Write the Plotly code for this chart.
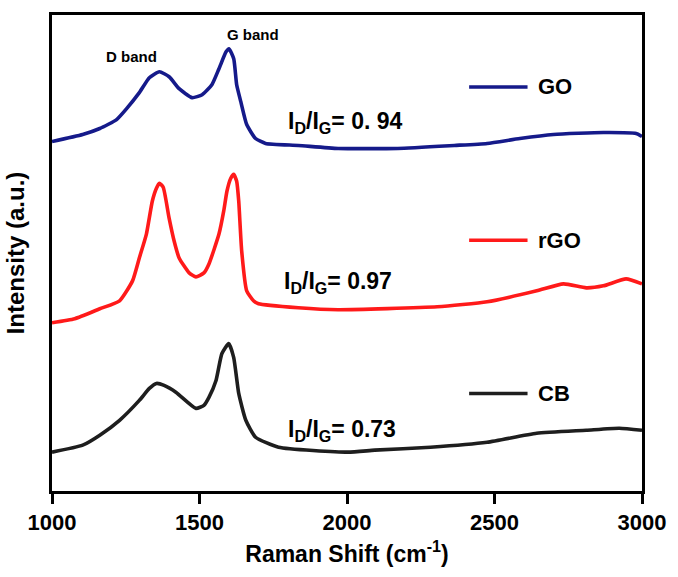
import plotly.graph_objects as go

# ---- data (Raman shift in cm^-1, intensity in a.u.) ----
go_shift = [1000, 1104, 1162, 1219, 1253, 1296, 1330, 1364, 1397, 1431, 1475,
            1509, 1542, 1566, 1590, 1600, 1616, 1626, 1640, 1660, 1690, 1724, 1835, 1970,
            2172, 2364, 2475, 2586, 2700, 2869, 2980, 3000]
go_int = [351, 358, 364, 373, 384, 400, 415, 421, 416, 404, 395,
          398, 408, 424, 441, 444, 434, 408, 391, 368, 354, 349, 347, 344,
          344, 347, 349, 354, 358, 360, 359, 356]

rgo_shift = [1000, 1077, 1162, 1229, 1273, 1296, 1320, 1340, 1354, 1364, 1377, 1397,
             1414, 1431, 1465, 1488, 1515, 1532, 1566, 1582, 1593, 1606, 1616, 1626,
             1633, 1643, 1660, 1683, 1700, 1835, 1970, 2306, 2475, 2643, 2734, 2811,
             2869, 2946, 3000]
rgo_int = [169, 173, 183, 191, 211, 234, 258, 291, 304, 309, 305, 274,
           251, 234, 219, 215, 219, 228, 258, 281, 301, 314, 318, 311,
           291, 241, 201, 191, 188, 184, 182, 185, 190, 201, 208, 204,
           206, 213, 208]

cb_shift = [1000, 1104, 1162, 1229, 1296, 1330, 1354, 1380, 1421, 1488, 1515, 1532,
            1556, 1576, 1599, 1616, 1633, 1657, 1690, 1768, 2003, 2094, 2283, 2475,
            2643, 2811, 2923, 3000]
cb_int = [39, 46, 56, 71, 91, 103, 108, 106, 99, 83, 86, 94,
          111, 138, 148, 134, 98, 71, 54, 44, 39, 41, 44, 49,
          58, 61, 63, 61]

series_names = ["GO", "rGO", "CB"]
series_colors = ["#151a8a", "#ff1a1a", "#1e1e1e"]
ratio_labels = ["I<sub>D</sub>/I<sub>G</sub>= 0. 94",
                "I<sub>D</sub>/I<sub>G</sub>= 0.97",
                "I<sub>D</sub>/I<sub>G</sub>= 0.73"]
x_ticks = [1000, 1500, 2000, 2500, 3000]

FONT = "Arial, Liberation Sans, sans-serif"

fig = go.Figure()
for name, xs, ys, col in zip(series_names, [go_shift, rgo_shift, cb_shift],
                             [go_int, rgo_int, cb_int], series_colors):
    fig.add_trace(go.Scatter(x=xs, y=ys, name=name, mode="lines",
                             line=dict(color=col, width=3.6, shape="spline", smoothing=0.5),
                             showlegend=False))

# legend keys (line sample + label) and ratio labels
legend_y = [0.849, 0.527, 0.205]
ratio_pos = [(0.396, 0.774), (0.389, 0.437), (0.396, 0.128)]
for name, col, ly, rl, (rx, ry) in zip(series_names, series_colors, legend_y,
                                        ratio_labels, ratio_pos):
    fig.add_shape(type="line", xref="paper", yref="paper", x0=0.707, x1=0.806,
                  y0=ly, y1=ly, line=dict(color=col, width=3.5))
    fig.add_annotation(text=name, xref="paper", yref="paper", x=0.82, y=ly,
                       xanchor="left", yanchor="middle", showarrow=False,
                       font=dict(family=FONT, size=22, color="black", weight="bold"))
    fig.add_annotation(text=rl, xref="paper", yref="paper", x=rx, y=ry,
                       xanchor="left", yanchor="middle", showarrow=False,
                       font=dict(family=FONT, size=23, color="black", weight="bold"))

fig.add_annotation(text="D band", x=1270, y=436, xref="x", yref="y", showarrow=False,
                   font=dict(family=FONT, size=15, color="black", weight="bold"))
fig.add_annotation(text="G band", x=1680, y=458, xref="x", yref="y", showarrow=False,
                   font=dict(family=FONT, size=15, color="black", weight="bold"))

fig.update_xaxes(range=[1000, 3000], tickvals=x_ticks, ticks="outside", ticklen=10,
                 tickwidth=3, tickcolor="black", showline=True, linewidth=3,
                 linecolor="black", mirror=True, showgrid=False, zeroline=False,
                 tickfont=dict(family=FONT, size=22, color="black", weight="bold"),
                 title=dict(text="Raman Shift (cm<sup>-1</sup>)", standoff=12,
                            font=dict(family=FONT, size=23, color="black", weight="bold")))
fig.update_yaxes(range=[0, 478], showticklabels=False, ticks="", showline=True,
                 linewidth=3, linecolor="black", mirror=True, showgrid=False,
                 zeroline=False,
                 title=dict(text="Intensity (a.u.)", standoff=18,
                            font=dict(family=FONT, size=24, color="black", weight="bold")))

fig.update_layout(width=678, height=577, margin=dict(l=52, r=32, t=13, b=86),
                  paper_bgcolor="white", plot_bgcolor="white")

fig.write_html("out.html")
